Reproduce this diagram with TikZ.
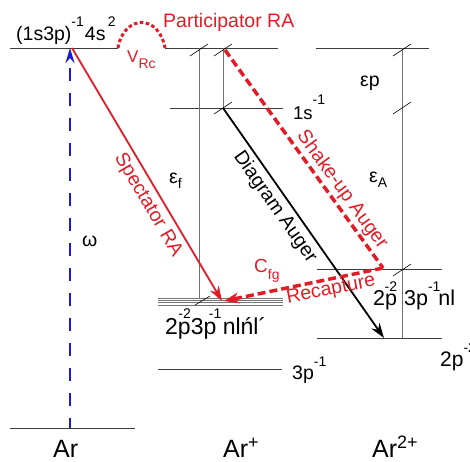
\documentclass[tikz,border=0pt]{standalone}
\usepackage{fontspec}
\setmainfont{Liberation Sans}
\usetikzlibrary{arrows.meta}
\definecolor{rr}{RGB}{226,28,38}
\definecolor{bb}{RGB}{25,25,205}
\definecolor{lv}{RGB}{60,60,60}
\newcommand\upx[2][14pt]{\raisebox{#1}{\fontsize{14}{14}\selectfont #2}}
\newcommand\dnx[2][-5pt]{\raisebox{#1}{\fontsize{14}{14}\selectfont #2}}
\newcommand\supA[1]{\raisebox{9pt}{\fontsize{18}{18}\selectfont #1}}
\begin{document}
\begin{tikzpicture}[x=1pt,y=-1pt,
  level/.style={draw=lv,line width=0.9pt},
  vert/.style={draw=black!55,line width=1pt},
  tickmark/.style={draw=black,line width=0.6pt},
  stack/.style={draw=black!55,line width=0.8pt},
  lbl/.style={inner sep=0pt,font=\fontsize{19.5}{20}\selectfont},
  rlbl/.style={lbl,text=rr},
  biglbl/.style={inner sep=0pt,font=\fontsize{25}{25}\selectfont},
  specarrow/.style={draw=rr,line width=1.8pt,-{Stealth[length=15pt,width=10pt]}},
  augarrow/.style={draw=black,line width=1.8pt,-{Stealth[length=15pt,width=10pt]}},
  reddash/.style={draw=rr,line width=3.5pt,dash pattern=on 8pt off 4pt},
  recap/.style={reddash,-{Stealth[length=15pt,width=11pt]}},
  reddot/.style={draw=rr,line width=3pt,dash pattern=on 3.5pt off 2.5pt},
  photon/.style={draw=bb,line width=2.2pt,dash pattern=on 13pt off 12pt,dash phase=3pt,-{Stealth[length=15pt,width=9pt]}}
]
\useasboundingbox (0,0) rectangle (470,461);
% level coordinates
\coordinate (A0L) at (10,428); \coordinate (A0R) at (135,428);
\coordinate (TL) at (10,48); \coordinate (TM) at (118,48);
\coordinate (TN) at (165,48); \coordinate (TR) at (278,48);
\coordinate (QL) at (316,48); \coordinate (QR) at (429,48);
\coordinate (SL) at (170,108); \coordinate (SR) at (283,108);
\coordinate (PL) at (158,369); \coordinate (PR) at (282,369);
\coordinate (ML) at (317,269); \coordinate (MR) at (442,269);
\coordinate (BL) at (317,338); \coordinate (BR) at (442,338);
\coordinate (V1t) at (199,48); \coordinate (V1b) at (199,298);
\coordinate (V2t) at (223,48); \coordinate (V2b) at (223,108);
\coordinate (V3t) at (402,48); \coordinate (V3b) at (402,338);
% arrow coordinates
\coordinate (w0) at (70,428); \coordinate (w1) at (70,48);
\coordinate (sp0) at (72,48); \coordinate (sp1) at (222,301);
\coordinate (da0) at (223,108); \coordinate (da1) at (384,338);
\coordinate (su0) at (225,50); \coordinate (su1) at (383,268);
\coordinate (rc1) at (224,301);

% levels
\draw[level] (A0L) -- (A0R);
\draw[level] (TL) -- (TM);
\draw[level] (TN) -- (TR);
\draw[level] (QL) -- (QR);
\draw[level] (SL) -- (SR);
\draw[level] (PL) -- (PR);
\draw[level] (ML) -- (MR);
\draw[level] (BL) -- (BR);
\foreach \yy in {298,300.3,302.6,304.9}
  \draw[stack] (158,\yy) -- (283,\yy);

% verticals
\draw[vert] (V1t) -- (V1b);
\draw[vert] (V2t) -- (V2b);
\draw[vert] (V3t) -- (V3b);
% ticks
\foreach \c in {(199,50),(223,50),(223,108),(402,50),(402,108),(402,270)}
  \draw[tickmark] \c ++(-9,6) -- ++(18,-12);
\draw[tickmark] (195,305) -- (210,296);

% participator arc
\draw[reddot] (TM) .. controls (124,14) and (159,14) .. (TN);

% arrows
\draw[photon] (w0) -- (w1);
\draw[specarrow] (sp0) -- (sp1);
\draw[augarrow] (da0) -- (da1);
\draw[reddash] (su0) -- (su1);
\draw[recap] (su1) -- (rc1);

% labels
\node[lbl,anchor=base west] (ltop) at (16,40) {(1s3p)\upx{-1}\hspace{1pt}4s\upx{\,2}};
\node[rlbl,anchor=base west] (lpart) at (163,27) {Participator RA};
\node[rlbl,anchor=base west,font=\fontsize{17}{17}\selectfont] (lvrc) at (127,62) {V\dnx[-6pt]{Rc}};
\node[lbl,anchor=base west,font=\fontsize{18.5}{19}\selectfont] (l1s) at (293,119) {1s\upx[15pt]{-1}};
\node[lbl,anchor=base west] (lep) at (360,86) {εp};
\node[lbl,anchor=base west] (lef) at (169,183) {ε\dnx{f}};
\node[lbl,anchor=base west] (leA) at (369,182) {ε\dnx{A}};
\node[lbl,anchor=base west] (lom) at (82,246) {ω};
\node[rlbl,anchor=base west,font=\fontsize{19}{19}\selectfont] (lcfg) at (254,272) {C\dnx[-7pt]{fg}};
\node[lbl,anchor=base west,font=\fontsize{21.5}{22}\selectfont] (lnl2) at (373,305) {2p\llap{\upx{-2}}\kern7pt 3p\upx{-1}\kern-2pt nl};
\node[lbl,anchor=base west,font=\fontsize{23}{23}\selectfont] (lnl) at (165,334) {2p\llap{\upx[16pt]{-2}}3p\llap{\upx[16pt]{-1}\kern-5pt}\ nlńl´};
\node[lbl,anchor=base west] (l3p) at (292,379) {3p\upx[13pt]{-1}};
\node[lbl,anchor=base west,font=\fontsize{21}{21}\selectfont] (l2p) at (440,366) {2p\upx{-2}};

% rotated process labels
\node[rlbl,rotate=-59.5] (tsp) at (148,205) {Spectator RA};
\node[lbl,rotate=-55] (tda) at (275,207) {Diagram Auger};
\node[rlbl,rotate=-54] (tsu) at (342,190) {Shake-up Auger};
\node[rlbl,rotate=11.2] (trc) at (331,290) {Recapture};

% species labels
\node[biglbl,anchor=base west] (ar0) at (53,457) {Ar};
\node[biglbl,anchor=base west] (ar1) at (223,457) {Ar\supA{+}};
\node[biglbl,anchor=base west] (ar2) at (372,457) {Ar\supA{2+}};
\end{tikzpicture}
\end{document}
